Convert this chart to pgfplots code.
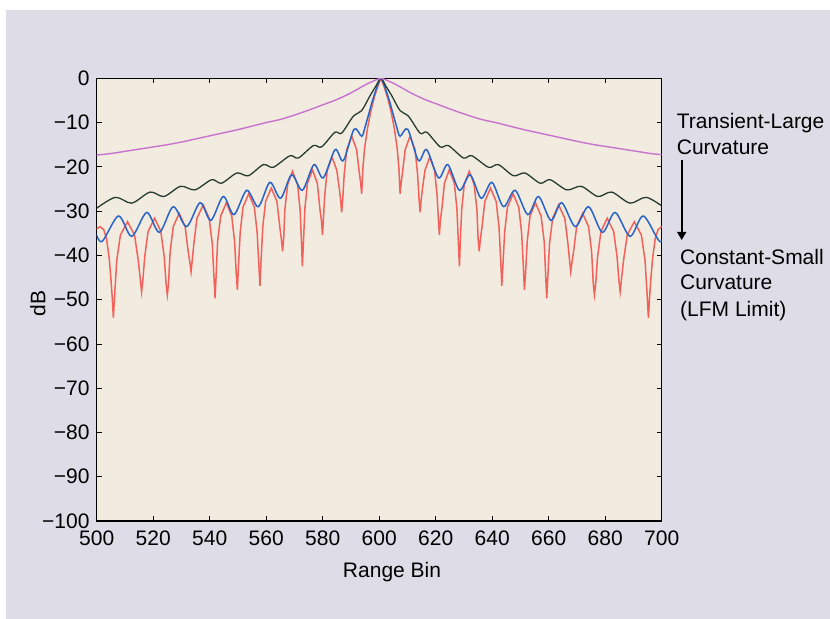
\documentclass[border=0pt]{standalone}
\usepackage{fontspec}
\setmainfont{Liberation Sans}
\usepackage{pgfplots}
\pgfplotsset{compat=1.18}
\usetikzlibrary{arrows.meta}
\definecolor{outerbg}{RGB}{222,220,230}
\definecolor{plotbg}{RGB}{241,235,224}
\definecolor{cred}{RGB}{242,98,90}
\definecolor{cblue}{RGB}{40,100,200}
\definecolor{cblack}{RGB}{40,60,50}
\definecolor{cmag}{RGB}{200,115,205}
\begin{document}
\fontsize{21bp}{25bp}\selectfont
\begin{tikzpicture}[x=1bp,y=1bp]
\fill[white] (0bp,0bp) rectangle (830bp,619bp);
\fill[outerbg] (6bp,0bp) rectangle (830bp,609bp);
\begin{axis}[
  at={(96.7bp,98bp)}, anchor=south west, scale only axis,
  width=565bp, height=442.7bp,
  xmin=500, xmax=700, ymin=-100, ymax=0,
  xtick={500,520,...,700},
  xticklabels={500,520,540,560,580,600,620,640,660,680,700},
  ytick={-100,-90,...,0},
  yticklabels={−100,−90,−80,−70,−60,−50,−40,−30,−20,−10,0},
  tick align=inside, major tick length=5bp,
  tick style={black, line width=0.8bp},
  axis line style={black, line width=1.1bp},
  axis background/.style={fill=plotbg},
  every tick label/.append style={font=\fontsize{21bp}{25bp}\selectfont},
  xticklabel style={yshift=-3bp},
  xlabel={Range Bin}, ylabel={dB},
  label style={font=\fontsize{21bp}{25bp}\selectfont},
  xlabel style={at={(axis description cs:0.5227,-0.115)}, anchor=center},
  ylabel style={at={(axis description cs:-0.104,0.492)}, anchor=center},
]
\addplot[cred, line width=1.5bp] coordinates {
(499.0,-34.3) (500,-34.0) (501.2,-33.5) (502.5,-34.2) (503.5,-36.3) (504.4,-40.5) (505.0,-45.0) (505.5,-49.5) (505.9,-54.1)
(506.4,-48.5) (507.1,-41.1) (508.4,-35.4) (510.9,-32.4) (513.4,-35.4) (514.7,-41.1) (515.4,-45.2) (515.9,-48.2)
(516.4,-45.2) (517.0,-40.3) (518.2,-34.6) (520.5,-31.6) (522.7,-34.6) (523.9,-40.3) (524.5,-45.9) (525.0,-48.9)
(525.4,-46.6) (526.0,-39.2) (527.1,-33.5) (529.2,-30.5) (531.3,-33.5) (532.4,-39.2) (533.0,-41.7) (533.4,-43.7)
(533.8,-41.2) (534.4,-37.3) (535.5,-31.6) (537.7,-28.6) (539.8,-31.6) (540.9,-37.3) (541.5,-44.7) (541.9,-49.7)
(542.3,-44.2) (542.8,-36.8) (543.9,-31.1) (545.9,-28.1) (547.8,-31.1) (548.8,-36.8) (549.4,-44.2) (549.8,-47.8)
(550.2,-42.2) (550.8,-34.8) (551.8,-29.1) (553.8,-26.1) (555.8,-29.1) (556.8,-34.8) (557.4,-42.2) (557.8,-46.9)
(558.2,-40.9) (558.8,-33.5) (559.8,-27.8) (561.8,-24.8) (563.8,-27.8) (564.8,-33.5) (565.4,-36.5) (565.8,-39.1)
(566.2,-36.1) (566.6,-29.7) (567.6,-24.0) (569.3,-21.0) (571.1,-24.0) (572.0,-29.7) (572.5,-37.1) (572.8,-42.5)
(573.2,-36.8) (573.7,-29.4) (574.6,-23.7) (576.4,-20.7) (578.1,-23.7) (579.0,-29.4) (579.6,-32.4) (579.9,-35.4)
(580.2,-32.4) (580.7,-26.5) (581.6,-20.8) (583.3,-17.8) (585.0,-20.8) (585.9,-25.0) (586.4,-27.8) (586.7,-30.3)
(587.1,-27.3) (587.6,-21.8) (588.5,-16.1) (590.3,-13.1) (592.0,-16.1) (592.9,-21.0) (593.4,-23.5) (593.8,-26.1)
(594.2,-20.5) (594.8,-16.0) (595.8,-11.5) (597.0,-7.5) (598.3,-4.2) (599.5,-1.8) (600.6,0)
(601.7,-1.8) (602.9,-4.2) (604.2,-7.5) (605.4,-11.5) (606.4,-16.0) (607.0,-20.5) (607.4,-26.1)
(607.8,-23.5) (608.3,-21.0) (609.2,-16.1) (610.9,-13.1) (612.7,-16.1) (613.6,-21.8) (614.1,-27.3) (614.5,-30.3)
(614.8,-27.8) (615.3,-25.0) (616.2,-20.8) (617.9,-17.8) (619.6,-20.8) (620.5,-26.5) (621.0,-32.4) (621.3,-35.4)
(621.6,-32.4) (622.2,-29.4) (623.1,-23.7) (624.8,-20.7) (626.6,-23.7) (627.5,-29.4) (628.0,-36.8) (628.4,-42.5)
(628.7,-37.1) (629.2,-29.7) (630.1,-24.0) (631.9,-21.0) (633.6,-24.0) (634.6,-29.7) (635.0,-36.1) (635.4,-39.1)
(635.8,-36.5) (636.4,-33.5) (637.4,-27.8) (639.4,-24.8) (641.4,-27.8) (642.4,-33.5) (643.0,-40.9) (643.4,-46.9)
(643.8,-42.2) (644.4,-34.8) (645.4,-29.1) (647.4,-26.1) (649.4,-29.1) (650.4,-34.8) (651.0,-42.2) (651.4,-47.8)
(651.8,-44.2) (652.4,-36.8) (653.4,-31.1) (655.3,-28.1) (657.3,-31.1) (658.4,-36.8) (658.9,-44.2) (659.3,-49.7)
(659.7,-44.7) (660.3,-37.3) (661.4,-31.6) (663.5,-28.6) (665.7,-31.6) (666.8,-37.3) (667.4,-41.2) (667.8,-43.7)
(668.2,-41.7) (668.8,-39.2) (669.9,-33.5) (672.0,-30.5) (674.1,-33.5) (675.2,-39.2) (675.8,-46.6) (676.2,-48.9)
(676.7,-45.9) (677.3,-40.3) (678.5,-34.6) (680.7,-31.6) (683.0,-34.6) (684.2,-40.3) (684.8,-45.2) (685.3,-48.2)
(685.8,-45.2) (686.5,-41.1) (687.8,-35.4) (690.3,-32.4) (692.8,-35.4) (694.1,-41.1) (694.8,-48.5) (695.3,-54.1)
(695.7,-49.5) (696.2,-45.0) (696.8,-40.5) (697.7,-36.3) (698.7,-34.2) (700.0,-33.5) (701.2,-34.0)
};
\addplot[cblue, line width=1.5bp, smooth] coordinates {
(499.0,-33.8) (501.8,-36.9) (507.7,-31.1) (512.4,-35.7) (517.7,-30.3) (522.2,-34.8) (527.1,-29.0) (531.8,-33.5)
(536.6,-28.1) (540.4,-32.1) (544.8,-26.7) (548.6,-30.8) (553.1,-25.3) (557.2,-29.0) (561.3,-23.5) (565.1,-27.1)
(569.0,-21.8) (572.8,-25.3) (576.9,-19.5) (580.2,-22.5) (584.4,-16.1) (587.3,-18.6) (591.1,-11.5) (593.8,-13.1)
(595.0,-11.0) (596.2,-8.3) (597.5,-5.3) (598.8,-2.7) (599.8,-0.9) (600.6,0)
(601.4,-0.9) (602.4,-2.7) (603.7,-5.3) (605.0,-8.3) (606.2,-11.0) (607.4,-13.1) (610.1,-11.5) (613.9,-18.6)
(616.8,-16.1) (621.0,-22.5) (624.3,-19.5) (628.4,-25.3) (632.2,-21.8) (636.1,-27.1) (639.9,-23.5) (644.0,-29.0)
(648.1,-25.3) (652.6,-30.8) (656.4,-26.7) (660.8,-32.1) (664.6,-28.1) (669.4,-33.5) (674.1,-29.0) (679.0,-34.8)
(683.5,-30.3) (688.8,-35.7) (693.5,-31.1) (699.4,-36.9) (702.2,-33.8)
};
\addplot[cblack, line width=1.3bp, smooth] coordinates {
(499.0,-29.8) (506.5,-26.9) (512.4,-28.2) (518.9,-25.7) (523.8,-26.7) (529.7,-24.4) (534.8,-25.2) (540.7,-22.9)
(544.2,-23.7) (549.6,-21.4) (553.7,-22.0) (559.0,-19.5) (562.5,-20.1) (568.4,-17.5) (571.4,-18.0) (576.7,-15.2)
(579.6,-15.5) (584.3,-12.2) (586.7,-12.4) (590.8,-8.6) (593.8,-7.3) (596.7,-4.0) (598.8,-1.8) (600.6,0)
(602.4,-1.8) (604.5,-4.0) (607.4,-7.3) (610.4,-8.6) (614.5,-12.4) (616.9,-12.2) (621.6,-15.5) (624.5,-15.2)
(629.8,-18.0) (632.8,-17.5) (638.7,-20.1) (642.2,-19.5) (647.5,-22.0) (651.6,-21.4) (657.0,-23.7) (660.5,-22.9)
(666.4,-25.2) (671.5,-24.4) (677.4,-26.7) (682.3,-25.7) (688.8,-28.2) (694.7,-26.9) (702.2,-29.8)
};
\addplot[cmag, line width=1.4bp, smooth] coordinates {
(499,-17.4) (505,-17.0) (510,-16.5) (515,-16.0) (520,-15.5) (525,-15.0) (530,-14.4) (535,-13.7) (540,-13.0)
(545,-12.3) (550,-11.6) (555,-10.8) (560,-10.0) (565,-9.3) (570,-8.3) (575,-7.2) (580,-6.0) (585,-4.8)
(590,-3.3) (595,-1.5) (598,-0.6) (600.6,0)
(603.2,-0.6) (606.2,-1.5) (611.2,-3.3) (616.2,-4.8) (621.2,-6.0) (626.2,-7.2) (631.2,-8.3) (636.2,-9.3)
(641.2,-10.0) (646.2,-10.8) (651.2,-11.6) (656.2,-12.3) (661.2,-13.0) (666.2,-13.7) (671.2,-14.4) (676.2,-15.0)
(681.2,-15.5) (686.2,-16.0) (691.2,-16.5) (696.2,-17.0) (702.2,-17.4)
};
\end{axis}
\node[anchor=base west, inner sep=0pt] at (676.7bp,490.7bp) {Transient-Large};
\node[anchor=base west, inner sep=0pt] at (676.7bp,464bp) {Curvature};
\draw[line width=1.6bp, -{Triangle[width=9bp,length=8bp]}] (681.7bp,459bp) -- (681.7bp,379bp);
\node[anchor=base west, inner sep=0pt] at (680bp,354bp) {Constant-Small};
\node[anchor=base west, inner sep=0pt] at (680bp,329bp) {Curvature};
\node[anchor=base west, inner sep=0pt] at (680bp,302.3bp) {(LFM Limit)};
\end{tikzpicture}
\end{document}
